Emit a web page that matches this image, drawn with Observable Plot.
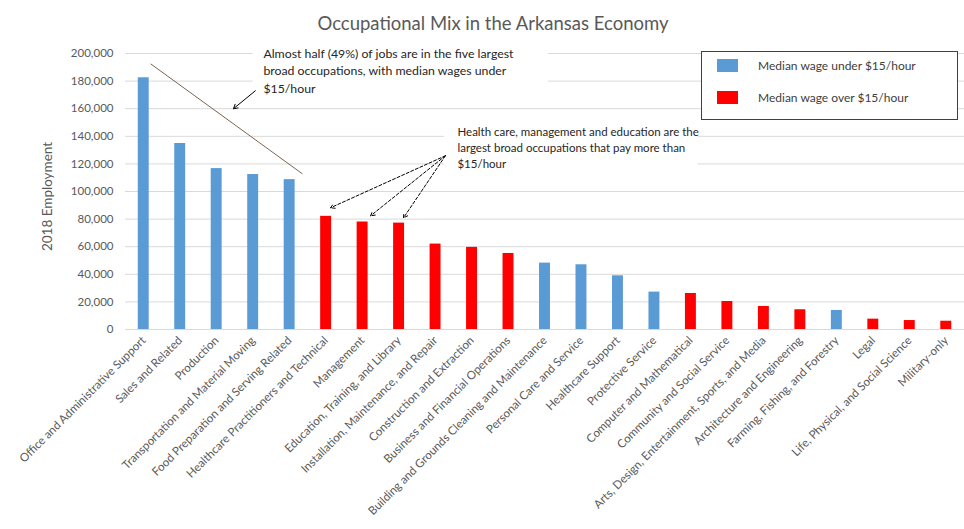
<!DOCTYPE html>
<html>
<head>
<meta charset="utf-8">
<script src="https://cdn.jsdelivr.net/npm/d3@7"></script>
<script src="https://cdn.jsdelivr.net/npm/@observablehq/plot@0.6"></script>
<style>
  body { margin: 0; background: #fff; font-family: Lato, "Open Sans", sans-serif; }
  #wrap { position: relative; width: 964px; height: 529px; overflow: hidden; }
  #title { position: absolute; left: 0; top: 12px; width: 986px; text-align: center; font-size: 18.5px; color: #595959; }
  #legend { position: absolute; left: 701px; top: 51px; width: 257px; height: 69px; box-sizing: border-box;
            border: 1.5px solid #404040; background: #fff; font-size: 12px; color: #404040; }
  .row { position: absolute; left: 15px; display: flex; align-items: center; }
  .sw { width: 21px; height: 13px; margin-right: 20px; }
</style>
</head>
<body>
<div id="wrap">
  <div id="chart"></div>
  <div id="title"></div>
  <div id="legend"></div>
</div>
<script>
// ---- data ----
const titleText = "Occupational Mix in the Arkansas Economy";
const yLabel = "2018 Employment";
const occupations = [
  "Office and Administrative Support",
  "Sales and Related",
  "Production",
  "Transportation and Material Moving",
  "Food Preparation and Serving Related",
  "Healthcare Practitioners and Technical",
  "Management",
  "Education, Training, and Library",
  "Installation, Maintenance, and Repair",
  "Construction and Extraction",
  "Business and Financial Operations",
  "Building and Grounds Cleaning and Maintenance",
  "Personal Care and Service",
  "Healthcare Support",
  "Protective Service",
  "Computer and Mathematical",
  "Community and Social Service",
  "Arts, Design, Entertainment, Sports, and Media",
  "Architecture and Engineering",
  "Farming, Fishing, and Forestry",
  "Legal",
  "Life, Physical, and Social Science",
  "Military-only"
];
const employment = [182400, 134800, 116600, 112300, 108600, 82000, 77900, 77100, 61900, 59500, 55100,
                    48100, 46900, 38900, 27100, 26100, 20300, 16700, 14300, 13800, 7500, 6500, 6000];
const wageGroup = ["under","under","under","under","under","over","over","over","over","over","over",
                   "under","under","under","under","over","over","over","over","under","over","over","over"];
const groupKeys = ["under", "over"];
const groupLabels = ["Median wage under $15/hour", "Median wage over $15/hour"];
const groupColors = ["#5b9bd5", "#ff0000"];
const yTicks = [0, 20000, 40000, 60000, 80000, 100000, 120000, 140000, 160000, 180000, 200000];

const note1 = "Almost half (49%) of jobs are in the five largest\nbroad occupations, with median wages under\n$15/hour";
const note2 = "Health care, management and education are the\nlargest broad occupations that pay more than\n$15/hour";
// annotation anchors in data space (x = occupation index, y = employment)
const notes = [
  {text: note1, x: 3.28, y: 205500, size: 12.3},
  {text: note2, x: 8.6, y: 148500, size: 11.5}
];
const noteBoxes = [
  {x1: 3.0, x2: 11.1, y1: 168000, y2: 206000},
  {x1: 8.25, x2: 15.2, y1: 110000, y2: 148000}
];
const bracketLine = [{x1: 0.19, y1: 192500, x2: 4.35, y2: 112800}];
const solidArrows = [{x1: 3.06, y1: 173000, x2: 2.46, y2: 160000}];
const dashedArrows = [
  {x1: 8.27, y1: 125900, x2: 5.12, y2: 88200},
  {x1: 8.27, y1: 125900, x2: 6.22, y2: 82400},
  {x1: 8.27, y1: 125900, x2: 7.12, y2: 80900}
];

// ---- table ----
const rows = occupations.map((name, i) => ({i, name, value: employment[i], group: wageGroup[i]}));
const idx = occupations.map((_, i) => i);

const chart = Plot.plot({
  width: 964,
  height: 529,
  marginLeft: 125,
  marginRight: 0,
  marginTop: 53,
  marginBottom: 200,
  style: {fontFamily: "Lato, 'Open Sans', sans-serif", background: "#fff"},
  x: {domain: [-0.5, occupations.length - 0.5], axis: null},
  y: {domain: [0, 200000], axis: null},
  color: {domain: groupKeys, range: groupColors},
  marks: [
    Plot.gridY(yTicks, {stroke: "#d9d9d9", strokeOpacity: 1, strokeWidth: 1}),
    Plot.rect(noteBoxes, {x1: "x1", x2: "x2", y1: "y1", y2: "y2", fill: "#fff"}),
    Plot.rectY(rows, {x1: d => d.i - 0.15, x2: d => d.i + 0.15, y: "value", fill: "group"}),
    Plot.axisY(yTicks, {tickSize: 0, tickPadding: 12, tickFormat: d3.format(","), fontSize: 11.5, fill: "#595959", label: null}),
    Plot.axisX(idx, {tickSize: 0, tickPadding: 9, tickRotate: -45, tickFormat: i => occupations[i], fontSize: 11.6, fill: "#595959", label: null}),
    Plot.text([yLabel], {frameAnchor: "left", dx: -78, dy: 5, rotate: -90, textAnchor: "middle", fontSize: 13.5, fill: "#595959", text: d => d}),
    Plot.text(notes, {x: "x", y: "y", text: "text", fontSize: "size", textAnchor: "start", lineAnchor: "top", lineHeight: 1.4, fill: "#262626"}),
    Plot.link(bracketLine, {x1: "x1", y1: "y1", x2: "x2", y2: "y2", stroke: "#7a6550", strokeWidth: 1}),
    Plot.arrow(solidArrows, {x1: "x1", y1: "y1", x2: "x2", y2: "y2", stroke: "#000", strokeWidth: 1, headLength: 7}),
    Plot.arrow(dashedArrows, {x1: "x1", y1: "y1", x2: "x2", y2: "y2", stroke: "#000", strokeWidth: 1, headLength: 7, strokeDasharray: "3,2"})
  ]
});
document.getElementById("chart").appendChild(chart);

document.getElementById("title").textContent = titleText;
const legend = document.getElementById("legend");
groupKeys.forEach((k, j) => {
  const row = document.createElement("div");
  row.className = "row";
  row.style.top = (j === 0 ? 6 : 38) + "px";
  const sw = document.createElement("span");
  sw.className = "sw";
  sw.style.background = groupColors[j];
  const lab = document.createElement("span");
  lab.textContent = groupLabels[j];
  row.appendChild(sw); row.appendChild(lab);
  legend.appendChild(row);
});
</script>
</body>
</html>
